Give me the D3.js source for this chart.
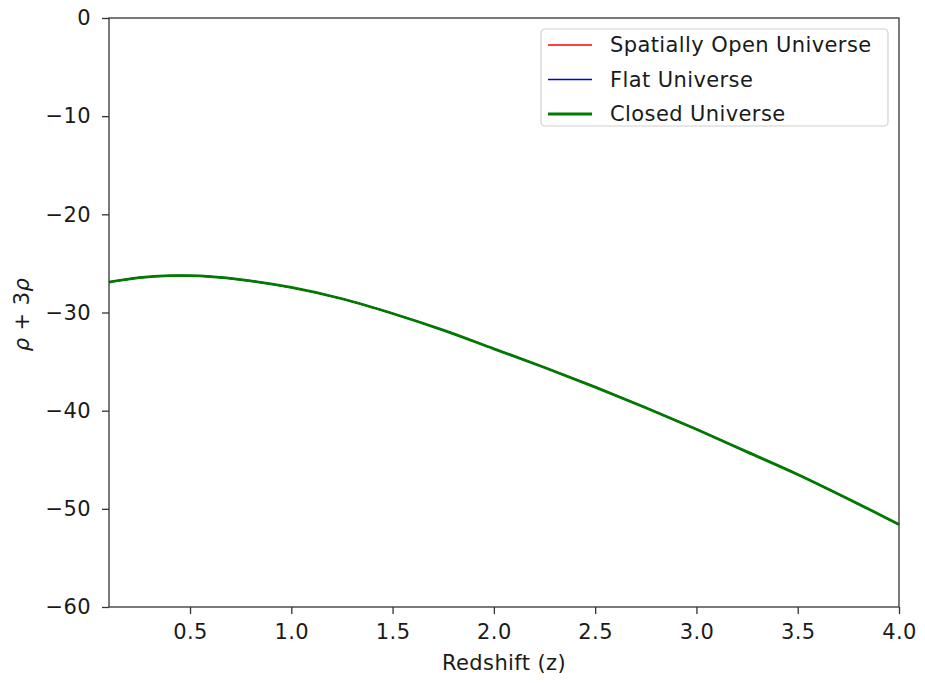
<!DOCTYPE html>
<html>
<head>
<meta charset="utf-8">
<script src="https://cdn.jsdelivr.net/npm/d3@7"></script>
<style>
  html, body { margin: 0; padding: 0; background: #fff; }
  svg text { font-family: "DejaVu Sans", sans-serif; fill: #1a1a1a; letter-spacing: 0.4px; }
</style>
</head>
<body>
<svg id="chart" width="925" height="683"></svg>
<script>
// Redshift samples and the quantity rho + 3p for the three curvature cases
const redshift = [0.1, 0.25, 0.4, 0.5, 0.6, 0.75, 1.0, 1.25, 1.5, 1.75, 2.0, 2.25, 2.5, 2.75, 3.0, 3.25, 3.5, 3.75, 4.0];
const openValues   = [-26.9, -26.45, -26.25, -26.25, -26.35, -26.65, -27.45, -28.6, -30.1, -31.8, -33.7, -35.6, -37.6, -39.7, -41.9, -44.2, -46.5, -49.0, -51.6];
const flatValues   = [-26.9, -26.45, -26.25, -26.25, -26.35, -26.65, -27.45, -28.6, -30.1, -31.8, -33.7, -35.6, -37.6, -39.7, -41.9, -44.2, -46.5, -49.0, -51.6];
const closedValues = [-26.9, -26.45, -26.25, -26.25, -26.35, -26.65, -27.45, -28.6, -30.1, -31.8, -33.7, -35.6, -37.6, -39.7, -41.9, -44.2, -46.5, -49.0, -51.6];

const seriesNames = ["Spatially Open Universe", "Flat Universe", "Closed Universe"];
const seriesColors = ["#ff0000", "#0000dd", "#007a00"];
const seriesWidths = [1.6, 1.6, 2.8];
const xTicks = [0.5, 1.0, 1.5, 2.0, 2.5, 3.0, 3.5, 4.0];
const yTicks = [0, -10, -20, -30, -40, -50, -60];

const margin = { left: 109, right: 26, top: 18, bottom: 76 };
const W = 925, H = 683;
const svg = d3.select("#chart");

const x = d3.scaleLinear().domain([0.1, 4.0]).range([margin.left, W - margin.right]);
const y = d3.scaleLinear().domain([-60, 0]).range([H - margin.bottom, margin.top]);

const fontSize = 21;

// curves
const series = [openValues, flatValues, closedValues];
const line = d3.line()
  .x((d, i) => x(redshift[i]))
  .y(d => y(d))
  .curve(d3.curveCatmullRom.alpha(0.5));

svg.append("g").selectAll("path")
  .data(series)
  .join("path")
  .attr("d", d => line(d))
  .attr("fill", "none")
  .attr("stroke", (d, i) => seriesColors[i])
  .attr("stroke-width", (d, i) => seriesWidths[i])
  .attr("stroke-linejoin", "round")
  .attr("stroke-linecap", "butt");

// axes
const xAxis = d3.axisBottom(x).tickValues(xTicks).tickFormat(d3.format(".1f")).tickSize(7).tickPadding(10);
const yAxis = d3.axisLeft(y).tickValues(yTicks).tickFormat(d => d < 0 ? "\u2212" + Math.abs(d) : d).tickSize(7).tickPadding(11);

const gx = svg.append("g").attr("transform", `translate(0,${y(-60)})`).call(xAxis);
const gy = svg.append("g").attr("transform", `translate(${x(0.1)},0)`).call(yAxis);
[gx, gy].forEach(g => {
  g.select(".domain").remove();
  g.selectAll(".tick line").attr("stroke", "#333").attr("stroke-width", 1.3);
  g.selectAll(".tick text").attr("font-size", fontSize).attr("fill", "#1a1a1a")
    .style("font-family", "'DejaVu Sans', sans-serif");
});

// frame
svg.append("rect")
  .attr("x", x(0.1)).attr("y", y(0))
  .attr("width", x(4.0) - x(0.1)).attr("height", y(-60) - y(0))
  .attr("fill", "none").attr("stroke", "#333").attr("stroke-width", 1.3);

// axis titles
svg.append("text")
  .attr("x", (x(0.1) + x(4.0)) / 2).attr("y", 670)
  .attr("text-anchor", "middle").attr("font-size", fontSize)
  .text("Redshift (z)");

const yl = svg.append("text")
  .attr("transform", `translate(29,${(y(0) + y(-60)) / 2 + 2}) rotate(-90)`)
  .attr("text-anchor", "middle").attr("font-size", fontSize);
yl.append("tspan").attr("font-style", "italic").text("\u03c1");
yl.append("tspan").text(" + 3");
yl.append("tspan").attr("font-style", "italic").text("\u03c1");

// legend
const lg = svg.append("g");
lg.append("rect")
  .attr("x", 541).attr("y", 29).attr("width", 347).attr("height", 97)
  .attr("rx", 4).attr("fill", "#fff").attr("fill-opacity", 0.8)
  .attr("stroke", "#d0d0d0").attr("stroke-width", 1.2);
const rows = lg.selectAll("g.row").data(seriesNames).join("g")
  .attr("class", "row")
  .attr("transform", (d, i) => `translate(0,${45 + i * 34.5})`);
rows.append("line")
  .attr("x1", 548).attr("x2", 592).attr("y1", 0).attr("y2", 0)
  .attr("stroke", (d, i) => seriesColors[i])
  .attr("stroke-width", (d, i) => seriesWidths[i]);
rows.append("text")
  .attr("x", 610).attr("y", 0).attr("dy", "0.35em")
  .attr("font-size", fontSize)
  .text(d => d);
</script>
</body>
</html>
